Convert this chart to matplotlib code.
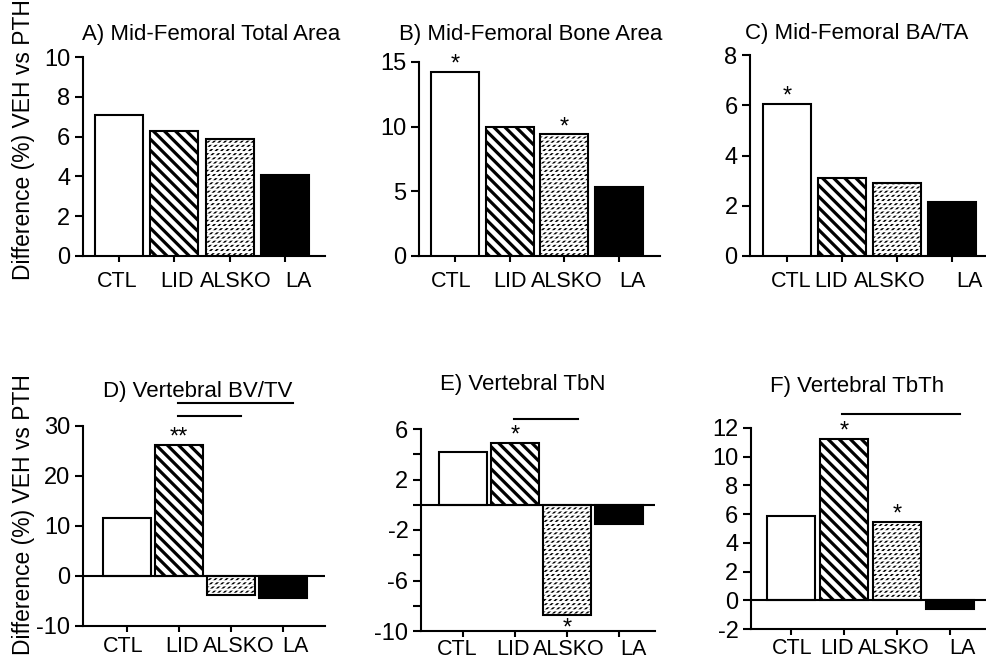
import numpy as np
import matplotlib
matplotlib.use('Agg')
import matplotlib.pyplot as plt
from matplotlib.transforms import ScaledTranslation

# ---------------- data ----------------
groups = ['CTL', 'LID', 'ALSKO', 'LA']

titles = ['A) Mid-Femoral Total Area', 'B) Mid-Femoral Bone Area',
          'C) Mid-Femoral BA/TA', 'D) Vertebral BV/TV',
          'E) Vertebral TbN', 'F) Vertebral TbTh']

vals_A = [7.1, 6.3, 5.9, 4.05]
vals_B = [14.2, 10.0, 9.4, 5.3]
vals_C = [6.05, 3.1, 2.9, 2.15]
vals_D = [11.7, 26.3, -3.7, -4.3]
vals_E = [4.2, 4.9, -8.7, -1.5]
vals_F = [5.85, 11.25, 5.45, -0.6]

# significance stars: (group index, text)
stars_A = []
stars_B = [(0, '*'), (2, '*')]
stars_C = [(0, '*')]
stars_D = [(1, '**')]
stars_E = [(1, '*'), (2, '*')]
stars_F = [(1, '*'), (2, '*')]

# comparison lines: (from group, to group)
comps_A, comps_B, comps_C = [], [], []
comps_D = [(1, 3), (1, 2)]
comps_E = [(1, 2)]
comps_F = [(1, 3)]

yticks_A = [0, 2, 4, 6, 8, 10]
yticks_B = [0, 5, 10, 15]
yticks_C = [0, 2, 4, 6, 8]
yticks_D = [-10, 0, 10, 20, 30]
yticks_E = [-10, -8, -6, -4, -2, 0, 2, 4, 6]
yticks_F = [-2, 0, 2, 4, 6, 8, 10, 12]
ylabels_E = ['-10', '', '-6', '', '-2', '', '2', '', '6']

ylabel = 'Difference (%) VEH vs PTH'

# ---------------- layout / style ----------------
W, H, DPI = 987, 661, 100
plt.rcParams['font.family'] = ['Liberation Sans', 'DejaVu Sans']

fig = plt.figure(figsize=(W / DPI, H / DPI), dpi=DPI)


def px_rect(l, t, r, b):
    return [l / W, (H - b) / H, (r - l) / W, (b - t) / H]


def px(x, y):
    return x / W, (H - y) / H


panels = [
    dict(vals=vals_A, stars=stars_A, comps=comps_A, comp_y=[], yt=yticks_A, yl=None,
         rect=(83, 57, 325, 256), ylim=(0, 10), xlim=(-0.65, 3.72), bw=0.87,
         title_px=(211, 40), zero_axis=True, xpad=6, shift=[-2, 3, 6, 13]),
    dict(vals=vals_B, stars=stars_B, comps=comps_B, comp_y=[], yt=yticks_B, yl=None,
         rect=(419, 62, 660, 256), ylim=(0, 15), xlim=(-0.66, 3.75), bw=0.88,
         title_px=(531, 40), zero_axis=True, xpad=6, shift=[-4, 0, 2, 13]),
    dict(vals=vals_C, stars=stars_C, comps=comps_C, comp_y=[], yt=yticks_C, yl=None,
         rect=(750, 55, 987, 256), ylim=(0, 8), xlim=(-0.68, 3.64), bw=0.88,
         title_px=(857, 39), zero_axis=True, xpad=6, shift=[4, -11, -7, 18]),
    dict(vals=vals_D, stars=stars_D, comps=comps_D, comp_y=[34.6, 32.0], yt=yticks_D, yl=None,
         rect=(83, 426, 325, 626), ylim=(-10, 30), xlim=(-0.85, 3.81), bw=0.92,
         title_px=(198, 397), zero_axis=False, xpad=2.5, shift=[-4, 3, 8, 13]),
    dict(vals=vals_E, stars=stars_E, comps=comps_E, comp_y=[6.8], yt=yticks_E, yl=ylabels_E,
         rect=(421, 429, 655, 631), ylim=(-10, 6), xlim=(-0.81, 3.69), bw=0.92,
         title_px=(523, 390), zero_axis=False, xpad=1.2, shift=[-6, -2, 2, 14]),
    dict(vals=vals_F, stars=stars_F, comps=comps_F, comp_y=[13.0], yt=yticks_F, yl=None,
         rect=(751, 428, 987, 629), ylim=(-2, 12), xlim=(-0.75, 3.70), bw=0.91,
         title_px=(857, 392), zero_axis=False, xpad=2.0, shift=[1, -7, -3, 13]),
]

LW = 1.5
x = np.arange(len(groups))


def hatch_lw(patch, lw):
    try:
        patch.set_hatch_linewidth(lw)
    except Exception:
        pass


for i, p in enumerate(panels):
    ax = fig.add_axes(px_rect(*p['rect']))
    vals = p['vals']
    bw = p['bw']

    # CTL - open
    ax.bar(x[0], vals[0], bw, facecolor='white', edgecolor='black', linewidth=LW, zorder=3)
    # LID - bold diagonal stripes
    with plt.rc_context({'hatch.linewidth': 2.3}):
        bars = ax.bar(x[1], vals[1], bw, facecolor='white', edgecolor='black',
                      linewidth=LW, hatch='\\\\\\', zorder=3)
    for b in bars:
        hatch_lw(b, 2.3)
    # ALSKO - rows of short slanted dashes
    with plt.rc_context({'hatch.linewidth': 1.2}):
        bars = ax.bar(x[2], vals[2], bw, facecolor='white', edgecolor='black',
                      linewidth=0, hatch='//////', zorder=3)
    for b in bars:
        hatch_lw(b, 1.2)
    with plt.rc_context({'hatch.linewidth': 1.5}):
        bars = ax.bar(x[2], vals[2], bw, facecolor='none', edgecolor='white',
                      linewidth=0, hatch='----', zorder=3.1)
    for b in bars:
        hatch_lw(b, 1.5)
    ax.bar(x[2], vals[2], bw, facecolor='none', edgecolor='black', linewidth=LW, zorder=3.2)
    # LA - solid black
    ax.bar(x[3], vals[3], bw, facecolor='black', edgecolor='black', linewidth=LW, zorder=3)

    ax.set_xlim(*p['xlim'])
    ax.set_ylim(*p['ylim'])
    ax.set_yticks(p['yt'])
    if p['yl'] is not None:
        ax.set_yticklabels(p['yl'])
    else:
        ax.set_yticklabels([str(t) for t in p['yt']])
    ax.set_xticks(x)
    ax.set_xticklabels(groups)

    for s in ['top', 'right']:
        ax.spines[s].set_visible(False)
    for s in ['left', 'bottom']:
        ax.spines[s].set_linewidth(LW)
    if not p['zero_axis']:
        ax.axhline(0, color='black', linewidth=LW, zorder=4)

    ax.tick_params(axis='y', direction='out', length=6, width=LW, labelsize=17, pad=3)
    ax.tick_params(axis='x', direction='out', length=4.5, width=LW, labelsize=15.5,
                   pad=p['xpad'])
    for lab, dxp in zip(ax.get_xticklabels(), p['shift']):
        lab.set_transform(lab.get_transform() +
                          ScaledTranslation(dxp / DPI, 0, fig.dpi_scale_trans))

    # stars
    for gi, txt in p['stars']:
        v = vals[gi]
        if v >= 0:
            ax.annotate(txt, (x[gi], v), xytext=(0, 1), textcoords='offset points',
                        ha='center', va='baseline', fontsize=17, zorder=5)
        else:
            ax.annotate(txt, (x[gi], v), xytext=(0, -14.5), textcoords='offset points',
                        ha='center', va='baseline', fontsize=17, zorder=5)

    # comparison lines
    for (g0, g1), yy in zip(p['comps'], p['comp_y']):
        ax.plot([x[g0] - 0.03, x[g1] + 0.2], [yy, yy], color='black', linewidth=LW,
                clip_on=False, zorder=5)

    tx, ty = px(*p['title_px'])
    fig.text(tx, ty, titles[i], ha='center', va='baseline', fontsize=16)

# y-axis labels
for cx, cy in [(24, 140), (24, 515)]:
    fx, fy = px(cx, cy)
    fig.text(fx, fy, ylabel, rotation=90, ha='center', va='center', fontsize=16.5)

fig.savefig('out.png', dpi=DPI)
